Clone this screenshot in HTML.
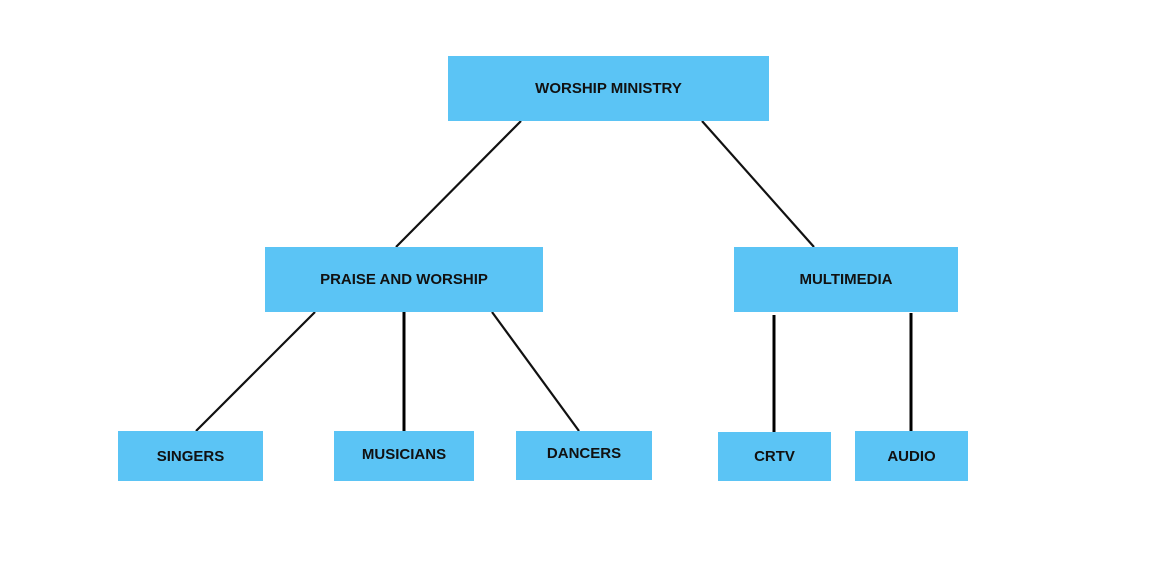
<!DOCTYPE html>
<html><head><style>
body{margin:0;width:1170px;height:567px;background:#fff;position:relative;overflow:hidden;font-family:"Liberation Sans",sans-serif}
.b{position:absolute;background:#5BC4F5;display:flex;align-items:center;justify-content:center;font-size:15px;font-weight:bold;color:#111}
svg{position:absolute;left:0;top:0}
</style></head><body>
<svg width="1170" height="567">
<g stroke="#111" stroke-width="2.2">
<line x1="521" y1="121" x2="396" y2="247"/>
<line x1="702" y1="121" x2="814" y2="247"/>
<line x1="315" y1="312" x2="196" y2="431"/>
<line x1="492" y1="312" x2="579" y2="431"/>
</g>
<g stroke="#000" stroke-width="3">
<line x1="404" y1="312" x2="404" y2="431"/>
<line x1="774" y1="315" x2="774" y2="432"/>
<line x1="911" y1="313" x2="911" y2="431"/>
</g>
</svg>
<div class="b" style="left:448px;top:56px;width:321px;height:65px">WORSHIP MINISTRY</div>
<div class="b" style="left:265px;top:247px;width:278px;height:65px">PRAISE AND WORSHIP</div>
<div class="b" style="left:734px;top:247px;width:224px;height:65px">MULTIMEDIA</div>
<div class="b" style="left:118px;top:431px;width:145px;height:50px">SINGERS</div>
<div class="b" style="left:334px;top:431px;width:140px;height:50px;padding-bottom:4px;box-sizing:border-box">MUSICIANS</div>
<div class="b" style="left:516px;top:431px;width:136px;height:49px;padding-bottom:4px;box-sizing:border-box">DANCERS</div>
<div class="b" style="left:718px;top:432px;width:113px;height:49px">CRTV</div>
<div class="b" style="left:855px;top:431px;width:113px;height:50px">AUDIO</div>
</body></html>
